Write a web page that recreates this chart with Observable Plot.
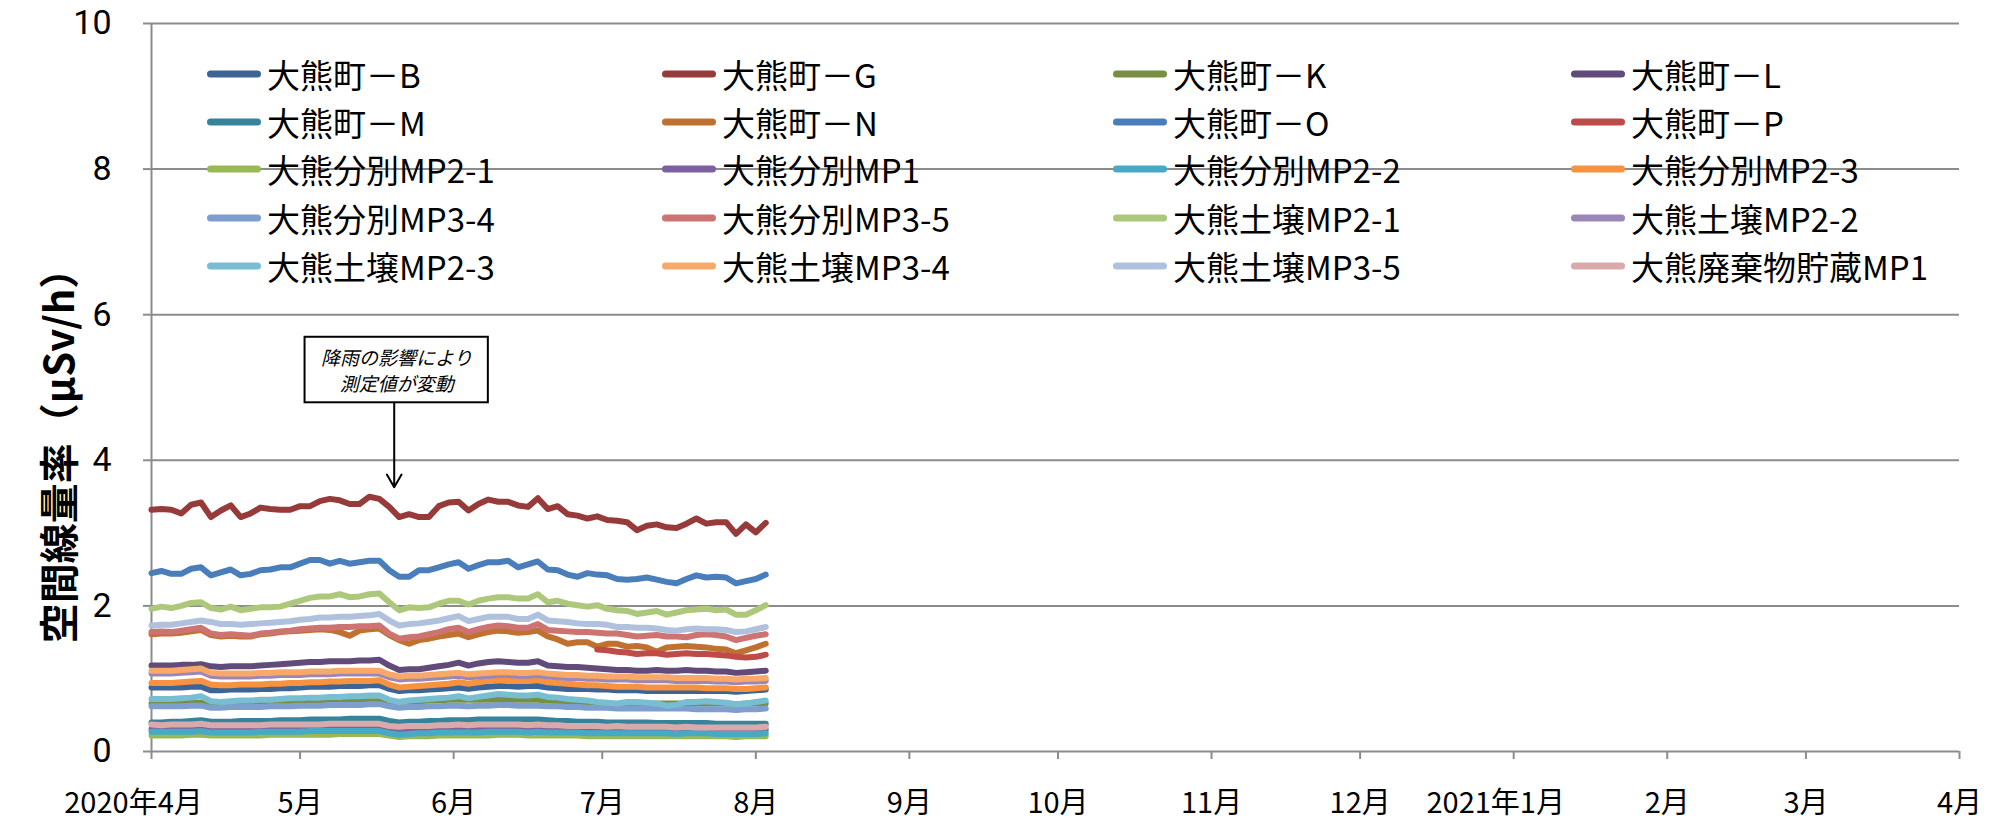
<!DOCTYPE html>
<html><head><meta charset="utf-8">
<script src="https://cdn.jsdelivr.net/npm/d3@7"></script>
<script src="https://cdn.jsdelivr.net/npm/@observablehq/plot@0.6"></script>
<style>
html,body{margin:0;padding:0;background:#fff;}
#wrap{position:relative;width:1995px;height:821px;font-family:"Noto Sans CJK JP",sans-serif;overflow:hidden;}
#wrap svg{position:absolute;left:0;top:0;}
#ytitle{position:absolute;left:57px;top:446px;transform:translate(-50%,-50%) rotate(-90deg);font-weight:bold;font-size:40px;white-space:nowrap;color:#000;line-height:1;}
.leg{position:absolute;display:flex;align-items:center;font-size:33px;white-space:nowrap;line-height:1;color:#000;transform:translateY(-50%);}
.sw{width:54px;height:7px;border-radius:4px;margin-right:6px;}
</style></head><body><div id="wrap"></div>
<script>
// ---- data ----
const dates = [
"2020-04-01","2020-04-03","2020-04-05","2020-04-07","2020-04-09","2020-04-11","2020-04-13","2020-04-15","2020-04-17","2020-04-19",
"2020-04-21","2020-04-23","2020-04-25","2020-04-27","2020-04-29","2020-05-01","2020-05-03","2020-05-05","2020-05-07","2020-05-09",
"2020-05-11","2020-05-13","2020-05-15","2020-05-17","2020-05-19","2020-05-21","2020-05-23","2020-05-25","2020-05-27","2020-05-29",
"2020-05-31","2020-06-02","2020-06-04","2020-06-06","2020-06-08","2020-06-10","2020-06-12","2020-06-14","2020-06-16","2020-06-18",
"2020-06-20","2020-06-22","2020-06-24","2020-06-26","2020-06-28","2020-06-30","2020-07-02","2020-07-04","2020-07-06","2020-07-08",
"2020-07-10","2020-07-12","2020-07-14","2020-07-16","2020-07-18","2020-07-20","2020-07-22","2020-07-24","2020-07-26","2020-07-28",
"2020-07-30","2020-08-01","2020-08-03"];

const seriesNames = ["大熊町－B","大熊町－G","大熊町－K","大熊町－L","大熊町－M","大熊町－N","大熊町－O","大熊町－P",
"大熊分別MP2-1","大熊分別MP1","大熊分別MP2-2","大熊分別MP2-3","大熊分別MP3-4","大熊分別MP3-5",
"大熊土壌MP2-1","大熊土壌MP2-2","大熊土壌MP2-3","大熊土壌MP3-4","大熊土壌MP3-5","大熊廃棄物貯蔵MP1"];

const seriesColors = ["#3C6494","#963B39","#778F41","#614B7B","#35849B","#C0712F","#4A7EBB","#BE4B48",
"#98B954","#7D60A0","#46AAC5","#F69240","#7E9ECE","#CD7472",
"#AEC87B","#9A87B6","#78BED3","#F8A96A","#AFC1DC","#D9AAA9"];

const valuesB = [0.88,0.88,0.88,0.88,0.89,0.89,0.84,0.84,0.85,0.85, 0.85,0.86,0.86,0.87,0.87,0.88,0.89,0.89,0.89,0.90, 0.90,0.90,0.91,0.91,0.86,0.83,0.84,0.84,0.85,0.86, 0.87,0.88,0.86,0.88,0.89,0.90,0.90,0.89,0.90,0.90, 0.88,0.87,0.86,0.86,0.86,0.85,0.85,0.84,0.84,0.84, 0.83,0.83,0.83,0.83,0.83,0.83,0.83,0.83,0.83,0.82, 0.83,0.84,0.85];
const valuesG = [3.32,3.33,3.32,3.27,3.39,3.42,3.22,3.31,3.38,3.22, 3.27,3.35,3.33,3.32,3.32,3.37,3.37,3.44,3.47,3.45, 3.40,3.40,3.50,3.47,3.36,3.22,3.26,3.22,3.22,3.37, 3.42,3.43,3.31,3.40,3.46,3.43,3.43,3.38,3.36,3.48, 3.33,3.37,3.26,3.24,3.20,3.23,3.18,3.17,3.15,3.04, 3.10,3.12,3.08,3.07,3.13,3.20,3.13,3.15,3.15,2.99, 3.12,3.01,3.14];
const valuesK = [0.66,0.66,0.66,0.66,0.67,0.67,0.66,0.66,0.66,0.66, 0.66,0.67,0.67,0.67,0.67,0.68,0.68,0.68,0.68,0.69, 0.69,0.69,0.69,0.69,0.68,0.68,0.69,0.69,0.70,0.70, 0.71,0.71,0.71,0.71,0.71,0.71,0.71,0.71,0.71,0.71, 0.70,0.69,0.68,0.67,0.67,0.66,0.66,0.65,0.65,0.65, 0.65,0.66,0.66,0.66,0.66,0.66,0.66,0.66,0.66,0.65, 0.66,0.66,0.66];
const valuesL = [1.18,1.18,1.18,1.19,1.19,1.20,1.17,1.16,1.17,1.17, 1.17,1.18,1.19,1.20,1.21,1.22,1.23,1.23,1.24,1.24, 1.24,1.25,1.25,1.26,1.18,1.12,1.13,1.13,1.15,1.17, 1.19,1.22,1.18,1.21,1.23,1.24,1.23,1.22,1.22,1.24, 1.18,1.17,1.16,1.16,1.15,1.14,1.13,1.12,1.12,1.11, 1.11,1.12,1.11,1.11,1.12,1.11,1.11,1.10,1.10,1.08, 1.09,1.10,1.11];
const valuesM = [0.40,0.40,0.41,0.41,0.42,0.43,0.41,0.41,0.41,0.42, 0.42,0.42,0.42,0.43,0.43,0.43,0.44,0.44,0.44,0.44, 0.45,0.45,0.45,0.45,0.42,0.40,0.41,0.41,0.42,0.42, 0.43,0.43,0.43,0.44,0.44,0.44,0.44,0.44,0.44,0.44, 0.43,0.42,0.42,0.41,0.41,0.41,0.40,0.40,0.40,0.40, 0.40,0.39,0.39,0.39,0.39,0.39,0.39,0.38,0.38,0.38, 0.38,0.38,0.38];
const valuesN = [1.61,1.62,1.62,1.63,1.65,1.67,1.60,1.58,1.59,1.58, 1.58,1.61,1.62,1.64,1.65,1.66,1.67,1.68,1.67,1.64, 1.59,1.66,1.68,1.69,1.60,1.53,1.48,1.53,1.55,1.58, 1.60,1.62,1.57,1.61,1.64,1.66,1.65,1.63,1.64,1.66, 1.58,1.54,1.48,1.50,1.50,1.44,1.48,1.48,1.44,1.45, 1.43,1.37,1.43,1.44,1.45,1.44,1.43,1.41,1.40,1.35, 1.39,1.43,1.48];
const valuesO = [2.45,2.48,2.44,2.44,2.51,2.53,2.42,2.46,2.50,2.42, 2.44,2.49,2.50,2.53,2.53,2.58,2.63,2.63,2.58,2.62, 2.58,2.60,2.62,2.62,2.49,2.40,2.40,2.49,2.49,2.53, 2.57,2.60,2.51,2.56,2.60,2.60,2.62,2.53,2.57,2.61, 2.50,2.49,2.43,2.40,2.45,2.43,2.42,2.37,2.36,2.37, 2.39,2.36,2.33,2.31,2.37,2.42,2.39,2.40,2.39,2.31, 2.34,2.37,2.43];
// 大熊町－P: no readings before 2020-06-30
const valuesP = [null,null,null,null,null,null,null,null,null,null, null,null,null,null,null,null,null,null,null,null, null,null,null,null,null,null,null,null,null,null, null,null,null,null,null,null,null,null,null,null, null,null,null,null,null,1.40,1.39,1.37,1.36,1.34, 1.35,1.35,1.33,1.34,1.35,1.34,1.34,1.33,1.32,1.30, 1.29,1.30,1.33];
const valuesSepMP2_1 = [0.22,0.22,0.22,0.22,0.23,0.23,0.22,0.22,0.22,0.22, 0.22,0.22,0.23,0.23,0.23,0.23,0.23,0.23,0.23,0.24, 0.24,0.24,0.24,0.24,0.22,0.20,0.21,0.21,0.21,0.22, 0.22,0.22,0.22,0.22,0.22,0.23,0.23,0.23,0.22,0.22, 0.22,0.22,0.22,0.22,0.21,0.21,0.21,0.21,0.21,0.21, 0.21,0.21,0.21,0.21,0.21,0.21,0.21,0.21,0.21,0.20, 0.21,0.21,0.21];
const valuesSepMP1 = [0.31,0.31,0.31,0.31,0.32,0.32,0.31,0.31,0.31,0.31, 0.31,0.31,0.32,0.32,0.32,0.32,0.32,0.32,0.32,0.33, 0.33,0.33,0.33,0.33,0.31,0.30,0.30,0.31,0.31,0.31, 0.31,0.32,0.31,0.32,0.32,0.32,0.32,0.32,0.31,0.32, 0.31,0.31,0.31,0.31,0.30,0.30,0.30,0.30,0.30,0.30, 0.30,0.30,0.30,0.30,0.30,0.30,0.29,0.29,0.29,0.29, 0.29,0.29,0.30];
const valuesSepMP2_2 = [0.27,0.27,0.27,0.27,0.27,0.28,0.26,0.26,0.26,0.26, 0.26,0.27,0.27,0.27,0.27,0.27,0.28,0.28,0.28,0.28, 0.28,0.28,0.28,0.28,0.25,0.23,0.24,0.25,0.25,0.26, 0.26,0.26,0.26,0.26,0.27,0.27,0.27,0.27,0.26,0.27, 0.26,0.26,0.26,0.26,0.25,0.25,0.25,0.25,0.25,0.25, 0.25,0.25,0.25,0.24,0.25,0.25,0.25,0.24,0.24,0.24, 0.24,0.24,0.25];
const valuesSepMP2_3 = [0.94,0.94,0.94,0.95,0.96,0.97,0.92,0.91,0.91,0.92, 0.92,0.92,0.93,0.93,0.94,0.94,0.95,0.95,0.96,0.96, 0.97,0.97,0.97,0.98,0.92,0.88,0.89,0.90,0.91,0.92, 0.93,0.95,0.93,0.95,0.97,0.98,0.97,0.97,0.97,0.98, 0.95,0.94,0.93,0.92,0.91,0.91,0.90,0.89,0.89,0.89, 0.88,0.88,0.88,0.88,0.88,0.88,0.87,0.87,0.87,0.86, 0.86,0.87,0.88];
const valuesSepMP3_4 = [0.62,0.62,0.62,0.62,0.63,0.63,0.60,0.60,0.61,0.61, 0.61,0.61,0.62,0.62,0.62,0.63,0.63,0.63,0.64,0.64, 0.64,0.64,0.65,0.65,0.62,0.60,0.61,0.61,0.62,0.62, 0.63,0.63,0.62,0.63,0.63,0.64,0.64,0.63,0.63,0.63, 0.62,0.62,0.61,0.61,0.60,0.60,0.60,0.59,0.59,0.59, 0.59,0.59,0.59,0.59,0.59,0.58,0.58,0.58,0.58,0.57, 0.58,0.58,0.59];
const valuesSepMP3_5 = [1.64,1.65,1.64,1.66,1.68,1.70,1.62,1.60,1.61,1.60, 1.59,1.62,1.63,1.65,1.66,1.68,1.69,1.70,1.70,1.71, 1.71,1.72,1.72,1.73,1.62,1.55,1.57,1.58,1.61,1.64, 1.68,1.70,1.64,1.68,1.71,1.73,1.72,1.70,1.70,1.75, 1.67,1.66,1.65,1.64,1.64,1.63,1.62,1.62,1.60,1.58, 1.59,1.60,1.58,1.58,1.57,1.60,1.61,1.60,1.58,1.53, 1.56,1.59,1.61];
const valuesSoilMP2_1 = [1.96,1.99,1.97,2.00,2.04,2.05,1.97,1.95,1.99,1.94, 1.96,1.98,1.98,1.99,2.03,2.07,2.11,2.13,2.13,2.16, 2.12,2.13,2.16,2.17,2.05,1.94,1.98,1.97,1.98,2.03, 2.07,2.07,2.02,2.07,2.10,2.12,2.12,2.10,2.10,2.16, 2.05,2.07,2.03,2.01,1.99,2.01,1.96,1.94,1.93,1.89, 1.91,1.93,1.88,1.91,1.94,1.95,1.96,1.94,1.95,1.88, 1.88,1.94,2.01];
const valuesSoilMP2_2 = [1.07,1.07,1.07,1.08,1.09,1.10,1.04,1.03,1.03,1.03, 1.03,1.04,1.04,1.05,1.05,1.05,1.06,1.06,1.06,1.07, 1.07,1.07,1.07,1.07,1.02,0.99,1.00,1.00,1.01,1.02, 1.03,1.04,1.02,1.03,1.04,1.05,1.05,1.04,1.04,1.05, 1.03,1.02,1.01,1.01,1.00,1.00,0.99,0.99,0.99,0.98, 0.98,0.98,0.98,0.97,0.97,0.97,0.97,0.96,0.96,0.95, 0.96,0.96,0.97];
const valuesSoilMP2_3 = [0.72,0.72,0.72,0.73,0.74,0.76,0.69,0.68,0.69,0.70, 0.70,0.71,0.71,0.72,0.73,0.73,0.74,0.74,0.75,0.75, 0.76,0.76,0.77,0.77,0.71,0.68,0.70,0.71,0.72,0.73, 0.74,0.76,0.73,0.75,0.77,0.79,0.78,0.77,0.77,0.78, 0.75,0.74,0.72,0.71,0.70,0.68,0.67,0.66,0.68,0.68, 0.67,0.66,0.63,0.64,0.68,0.68,0.69,0.68,0.67,0.65, 0.66,0.68,0.70];
const valuesSoilMP3_4 = [1.11,1.11,1.11,1.12,1.13,1.14,1.08,1.07,1.07,1.07, 1.07,1.08,1.08,1.09,1.09,1.09,1.10,1.10,1.10,1.11, 1.11,1.11,1.11,1.11,1.06,1.03,1.04,1.04,1.05,1.06, 1.07,1.08,1.06,1.07,1.08,1.09,1.09,1.08,1.08,1.09, 1.07,1.06,1.05,1.05,1.04,1.04,1.03,1.03,1.03,1.02, 1.02,1.02,1.02,1.01,1.01,1.01,1.01,1.00,1.00,0.99, 1.00,1.00,1.01];
const valuesSoilMP3_5 = [1.73,1.74,1.74,1.76,1.78,1.80,1.78,1.75,1.75,1.74, 1.75,1.76,1.77,1.78,1.79,1.81,1.82,1.84,1.84,1.85, 1.85,1.86,1.87,1.89,1.80,1.73,1.75,1.76,1.78,1.80, 1.83,1.86,1.79,1.82,1.85,1.85,1.85,1.82,1.82,1.88, 1.80,1.79,1.78,1.76,1.75,1.75,1.74,1.71,1.71,1.70, 1.70,1.69,1.67,1.66,1.68,1.69,1.68,1.68,1.67,1.64, 1.65,1.68,1.71];
const valuesWasteMP1 = [0.37,0.36,0.37,0.37,0.37,0.38,0.36,0.36,0.36,0.36, 0.36,0.36,0.37,0.37,0.37,0.37,0.37,0.37,0.38,0.38, 0.38,0.38,0.38,0.38,0.35,0.34,0.35,0.35,0.35,0.36, 0.36,0.37,0.36,0.37,0.37,0.37,0.37,0.37,0.36,0.37, 0.36,0.36,0.35,0.35,0.35,0.35,0.34,0.35,0.34,0.34, 0.34,0.34,0.34,0.33,0.34,0.33,0.33,0.33,0.33,0.33, 0.33,0.33,0.34];

const seriesValues = [valuesB,valuesG,valuesK,valuesL,valuesM,valuesN,valuesO,valuesP,
valuesSepMP2_1,valuesSepMP1,valuesSepMP2_2,valuesSepMP2_3,valuesSepMP3_4,valuesSepMP3_5,
valuesSoilMP2_1,valuesSoilMP2_2,valuesSoilMP2_3,valuesSoilMP3_4,valuesSoilMP3_5,valuesWasteMP1];

const xTickDates = ["2020-04-01","2020-05-01","2020-06-01","2020-07-01","2020-08-01","2020-09-01","2020-10-01","2020-11-01","2020-12-01","2021-01-01","2021-02-01","2021-03-01","2021-04-01"];
const xTickLabels = ["2020年4月","5月","6月","7月","8月","9月","10月","11月","12月","2021年1月","2月","3月","4月"];
const yTicks = [0,2,4,6,8,10];
const yTitle = "空間線量率（μSv/h）";

const noteText = "降雨の影響により\n測定値が変動";
const noteBox = {x1:"2020-05-02", x2:"2020-06-08", y1:4.79, y2:5.69};
const noteArrow = {x:"2020-05-20", y1:4.79, y2:3.63};

// ---- build ----
const parse = s => new Date(s + "T00:00:00Z");
const rows = [];
seriesNames.forEach((name, i) => {
  seriesValues[i].forEach((v, j) => { if (v != null) rows.push({name, date: parse(dates[j]), value: v}); });
});
const monthTicks = xTickDates.map(parse);
const labelOf = new Map(monthTicks.map((d, i) => [+d, xTickLabels[i]]));
const hasYear = d => labelOf.get(+d).includes("年");
const yearTicks = monthTicks.filter(hasYear);
const gray = "#8c8c8c";

const chart = Plot.plot({
  width: 1995, height: 821,
  marginLeft: 151, marginRight: 36, marginTop: 23, marginBottom: 70,
  style: {fontFamily: '"Noto Sans CJK JP", sans-serif', background: "white", color: "black"},
  x: {type: "utc", domain: [monthTicks[0], monthTicks[monthTicks.length - 1]], label: null},
  y: {domain: [0, 10], label: null},
  color: {domain: seriesNames, range: seriesColors},
  marks: [
    Plot.ruleY(yTicks.filter(d => d > 0), {stroke: gray, strokeWidth: 2}),
    Plot.ruleY([0], {stroke: gray, strokeWidth: 2}),
    Plot.ruleX([monthTicks[0]], {stroke: gray, strokeWidth: 2}),
    Plot.axisX(monthTicks, {tickFormat: d => hasYear(d) ? "" : labelOf.get(+d), tickSize: 8, tickPadding: 33, stroke: gray, strokeWidth: 2, fill: "black", fontSize: 29, label: null}),
    Plot.axisX(yearTicks, {tickFormat: d => labelOf.get(+d), tickSize: 0, tickPadding: 41, dx: -18, fill: "black", fontSize: 29, label: null}),
    Plot.axisY(yTicks, {tickFormat: d => String(d), tickSize: 8, tickPadding: 32, stroke: gray, strokeWidth: 2, fill: "black", fontSize: 34, fontFamily: "Roboto", label: null}),
    Plot.lineY(rows, {x: "date", y: "value", z: "name", stroke: "name", strokeWidth: 6, strokeLinejoin: "round", strokeLinecap: "round"}),
    Plot.rect([noteBox], {x1: d => parse(d.x1), x2: d => parse(d.x2), y1: "y1", y2: "y2", fill: "white", stroke: "black", strokeWidth: 2}),
    Plot.text([noteBox], {x: d => new Date((+parse(d.x1) + +parse(d.x2)) / 2), y: d => (d.y1 + d.y2) / 2, text: () => noteText, fontSize: 19, fontStyle: "italic", lineHeight: 1.35, fill: "black"}),
    Plot.arrow([noteArrow], {x1: d => parse(d.x), x2: d => parse(d.x), y1: "y1", y2: "y2", stroke: "black", strokeWidth: 2, headLength: 11})
  ]
});
const wrap = document.getElementById("wrap");
wrap.appendChild(chart);

const yt = document.createElement("div");
yt.id = "ytitle"; yt.textContent = yTitle;
wrap.appendChild(yt);

// legend (4 columns x 5 rows, inside the plot area)
const legendColX = [207, 662, 1113, 1571];
const legendRowY = [74, 122, 169, 218, 266];
seriesNames.forEach((name, i) => {
  const item = document.createElement("div");
  item.className = "leg";
  item.style.left = legendColX[i % 4] + "px";
  item.style.top = legendRowY[Math.floor(i / 4)] + "px";
  const sw = document.createElement("span");
  sw.className = "sw"; sw.style.background = seriesColors[i];
  const tx = document.createElement("span");
  tx.textContent = name;
  item.appendChild(sw); item.appendChild(tx);
  wrap.appendChild(item);
});
</script>
</body></html>
